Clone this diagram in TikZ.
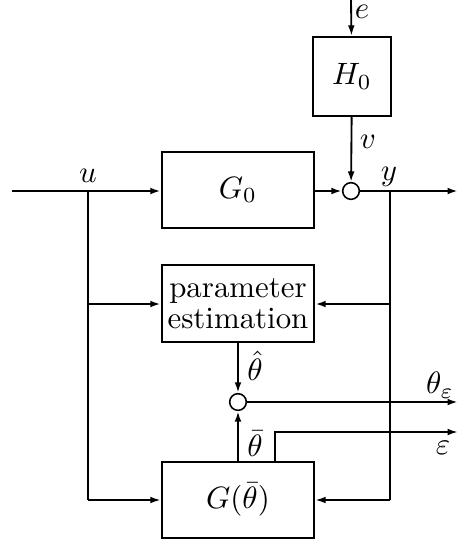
\documentclass[tikz,border=0pt]{standalone}
\usetikzlibrary{arrows.meta}
\begin{document}
\begin{tikzpicture}[
    x=0.324pt, y=-0.324pt,
    blk/.style={rectangle, draw, line width=0.75pt, inner sep=0pt},
    sumpt/.style={circle, draw, line width=0.5pt, minimum size=5.4pt, inner sep=0pt},
    arr/.style={-{Latex[length=3.4pt,width=2.2pt]}, line width=0.8pt},
    lnk/.style={line width=0.6pt},
    lbl/.style={inner sep=1pt}
  ]
  \useasboundingbox (0,0) rectangle (460,543);

  % blocks
  \node[blk, minimum width=25.3pt, minimum height=25.6pt] (h0) at (352, 76.5) {$H_0$};
  \node[blk, minimum width=49.3pt, minimum height=24.6pt] (g0) at (238, 190) {$G_0$};
  \node[blk, minimum width=49.3pt, minimum height=24.9pt, align=center] (pe) at (238, 303.5)
    {parameter\\[-2pt]estimation};
  \node[blk, minimum width=49.3pt, minimum height=24.6pt] (gm) at (238, 500) {$G(\bar\theta)$};

  % summing points
  \node[sumpt] (s1) at (351, 191) {};
  \node[sumpt] (s2) at (238, 402) {};

  % free ends and branch points
  \coordinate (ein) at (351, 0);
  \coordinate (uin) at (12, 191);
  \coordinate (yout) at (458, 191);
  \coordinate (ub) at (88, 191);
  \coordinate (yb) at (390, 191);
  \coordinate (ub2) at (88, 304);
  \coordinate (yb2) at (390, 304);
  \coordinate (ub3) at (88, 500);
  \coordinate (yb3) at (390, 500);
  \coordinate (thout) at (458, 402);
  \coordinate (epsup) at (275, 432);
  \coordinate (epsout) at (458, 432);

  % forward path
  \draw[arr, lnk] (ein) -- (h0);
  \draw[arr, lnk] (h0) -- (s1);
  \draw[arr] (uin) -- (g0.west |- uin);
  \draw[arr] (g0.east |- s1) -- (s1);
  \draw[arr] (s1) -- (yout);

  % branches to the estimator and the model
  \draw[lnk] (ub) -- (ub3);
  \draw[lnk] (yb) -- (yb3);
  \draw[arr] (ub2) -- (pe.west |- ub2);
  \draw[arr] (yb2) -- (pe.east |- yb2);
  \draw[arr, lnk] (ub3) -- (gm.west |- ub3);
  \draw[arr, lnk] (yb3) -- (gm.east |- yb3);

  % parameter comparison
  \draw[arr] (pe) -- (s2);
  \draw[arr] (gm) -- (s2);
  \draw[arr] (s2) -- (thout);
  \draw[arr, lnk] (gm.north -| epsup) |- (epsout);

  % labels
  \node[lbl] (le) at (362, 12) {$e$};
  \node[lbl] (lv) at (368, 142) {$v$};
  \node[lbl] (lu) at (88, 176) {$u$};
  \node[lbl] (ly) at (389, 177) {$y$};
  \node[lbl] (lth) at (255, 366) {$\hat\theta$};
  \node[lbl] (ltb) at (255, 444) {$\bar\theta$};
  \node[lbl] (lte) at (440, 385) {$\theta_\varepsilon$};
  \node[lbl] (leps) at (443, 448) {$\varepsilon$};
\end{tikzpicture}
\end{document}
